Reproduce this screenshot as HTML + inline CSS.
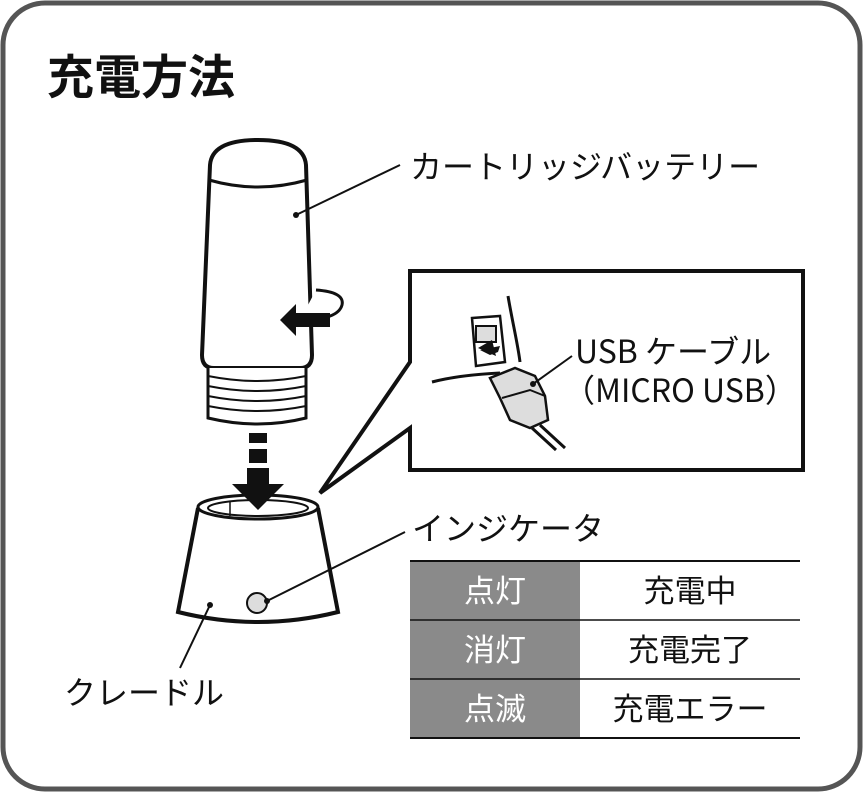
<!DOCTYPE html>
<html><head><meta charset="utf-8"><style>
body{margin:0;background:#fff;}
svg text{font-family:"Noto Sans CJK JP","Liberation Sans",sans-serif;}
</style></head><body>
<svg width="863" height="792" viewBox="0 0 863 792" xmlns="http://www.w3.org/2000/svg">
<rect x="3" y="3" width="857" height="786" rx="42" fill="#fff" stroke="#555" stroke-width="5"/>
<text x="47" y="94" font-size="47" font-weight="bold" fill="#111">充電方法</text>

<!-- callout -->
<path d="M410,362 L410,271 L803,271 L803,470 L410,470 L410,428 L320,493 Z" fill="#fff" stroke="#111" stroke-width="4" stroke-linejoin="miter"/>
<!-- usb drawing -->
<path d="M508,296 C512,320 518,345 520,362" fill="none" stroke="#111" stroke-width="3"/>
<path d="M432,382 C455,376 480,374 500,373" fill="none" stroke="#111" stroke-width="3"/>
<path d="M472,318 L500,316 L505,362 L476,366 Z" fill="#fff" stroke="#111" stroke-width="2.5"/>
<rect x="476" y="326" width="20" height="16" fill="#ddd" stroke="#111" stroke-width="2"/>
<path d="M480,350 L500,346 L498,352 L490,355 Z" fill="#111"/>
<path d="M478,348 L492,340 L496,356 Z" fill="#111"/>
<path d="M490,378 L515,368 L535,376 L545,396 L548,420 L530,428 L510,420 L500,398 Z" fill="#ddd" stroke="#111" stroke-width="2.5"/>
<path d="M502,398 L530,390 L545,396" fill="none" stroke="#111" stroke-width="2"/>
<path d="M540,425 L565,448 M532,428 L556,450" stroke="#111" stroke-width="3"/>
<line x1="533" y1="384" x2="572" y2="356" stroke="#111" stroke-width="2"/>
<circle cx="533" cy="384" r="3" fill="#111"/>
<text x="575" y="363" font-size="32" fill="#111">USB ケーブル</text>
<text x="563" y="402" font-size="32" fill="#111">（MICRO USB）</text>

<!-- cartridge -->
<path d="M210,165 Q212,140 258,140 Q304,140 306,165 L312,355 Q312,368 300,368 L214,368 Q202,368 202,355 Z" fill="#fff" stroke="#111" stroke-width="4"/>
<path d="M209,180 Q258,194 307,180" fill="none" stroke="#111" stroke-width="3"/>
<path d="M208,368 L208,418 Q258,430 306,418 L306,368" fill="#fff" stroke="#111" stroke-width="3"/>
<g stroke="#111" stroke-width="2" fill="none">
<path d="M208,376 Q258,386 306,376"/><path d="M208,386 Q258,396 306,386"/>
<path d="M208,396 Q258,406 306,396"/><path d="M208,406 Q258,416 306,406"/>
</g>
<path d="M316,290 Q345,292 342,305 Q338,320 300,320" fill="#fff" stroke="#111" stroke-width="3"/>
<path d="M280,320 L296,304 L296,313 L330,313 L330,327 L296,327 L296,336 Z" fill="#111"/>
<line x1="296" y1="215" x2="400" y2="165" stroke="#111" stroke-width="2"/>
<circle cx="296" cy="215" r="3" fill="#111"/>
<text x="410" y="178" font-size="32" fill="#111">カートリッジバッテリー</text>

<!-- cradle -->
<path d="M198,508 L178,612 Q258,632 338,612 L318,508" fill="#fff" stroke="#111" stroke-width="4"/>
<ellipse cx="258" cy="507" rx="60" ry="12" fill="#fff" stroke="#111" stroke-width="3"/>
<ellipse cx="258" cy="508" rx="50" ry="8" fill="#fff" stroke="#111" stroke-width="2"/>
<line x1="230" y1="502" x2="230" y2="516" stroke="#111" stroke-width="1.5"/>
<!-- arrow -->
<rect x="249" y="433" width="18" height="10" fill="#111"/>
<rect x="249" y="449" width="18" height="14" fill="#111"/>
<rect x="247" y="468" width="22" height="16" fill="#111"/>
<path d="M232,484 L284,484 L258,510 Z" fill="#111"/>
<circle cx="257" cy="603" r="10" fill="#ddd" stroke="#111" stroke-width="2"/>
<line x1="267" y1="601" x2="405" y2="532" stroke="#111" stroke-width="2"/>
<circle cx="267" cy="601" r="3" fill="#111"/>
<text x="412" y="540" font-size="32" fill="#111">インジケータ</text>
<line x1="210" y1="605" x2="180" y2="668" stroke="#111" stroke-width="2"/>
<circle cx="210" cy="605" r="3" fill="#111"/>
<text x="64" y="704" font-size="32" fill="#111">クレードル</text>

<!-- table -->
<rect x="410" y="561" width="170" height="177" fill="#8a8a8a"/>
<line x1="410" y1="561" x2="800" y2="561" stroke="#111" stroke-width="2"/>
<line x1="410" y1="620" x2="800" y2="620" stroke="#111" stroke-width="1.5"/>
<line x1="410" y1="679" x2="800" y2="679" stroke="#111" stroke-width="1.5"/>
<line x1="410" y1="738" x2="800" y2="738" stroke="#111" stroke-width="2"/>
<g font-size="31" text-anchor="middle">
<text x="495" y="602" fill="#fff">点灯</text>
<text x="495" y="661" fill="#fff">消灯</text>
<text x="495" y="720" fill="#fff">点滅</text>
<text x="690" y="602" fill="#111">充電中</text>
<text x="690" y="661" fill="#111">充電完了</text>
<text x="690" y="720" fill="#111">充電エラー</text>
</g>
</svg>
</body></html>
